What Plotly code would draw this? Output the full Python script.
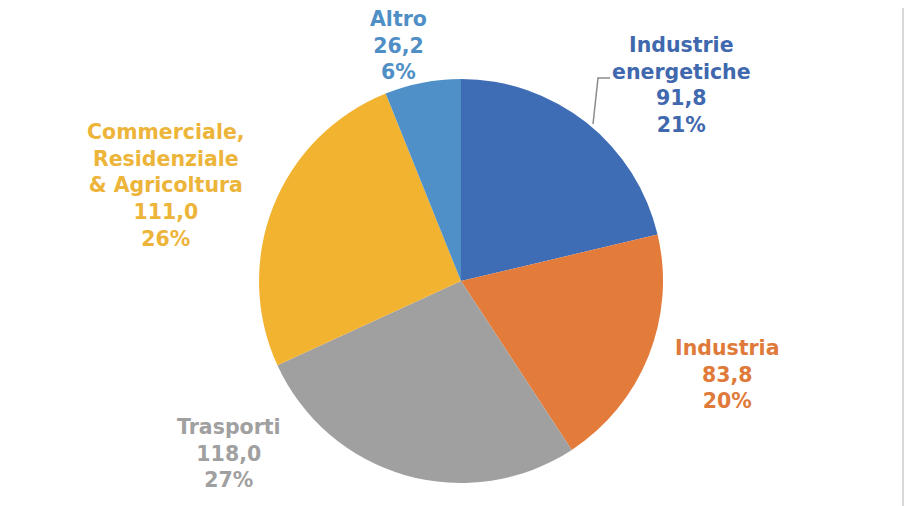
import plotly.graph_objects as go

# Emissioni per settore
labels = ["Industrie<br>energetiche", "Industria", "Trasporti",
          "Commerciale,<br>Residenziale<br>& Agricoltura", "Altro"]
values = [91.8, 83.8, 118.0, 111.0, 26.2]
shares = [21, 20, 27, 26, 6]

slice_colors = ["#3F6DB5", "#E37B3A", "#A0A0A0", "#F1B330", "#5090C8"]
text_colors = ["#3F68AE", "#E07A3A", "#A0A0A0", "#EDB43A", "#4F8FC6"]

# label anchor positions (paper coordinates)
label_pos = [(0.750, 0.832), (0.800, 0.260), (0.252, 0.103), (0.183, 0.634), (0.438, 0.910)]

W, H = 909, 506
cx, cy, r = 461, 281, 202

fig = go.Figure(go.Pie(
    labels=[l.replace("<br>", " ") for l in labels],
    values=values,
    sort=False,
    direction="clockwise",
    rotation=0,
    marker=dict(colors=slice_colors, line=dict(width=0)),
    textinfo="none",
    hoverinfo="label+value+percent",
    showlegend=False,
    domain=dict(x=[(cx - r) / W, (cx + r) / W],
                y=[1 - (cy + r) / H, 1 - (cy - r) / H]),
))

annotations = []
for lab, val, pct, col, (ax, ay) in zip(labels, values, shares, text_colors, label_pos):
    txt = f"{lab}<br>{val:.1f}".replace(".", ",") + f"<br>{pct}%"
    annotations.append(dict(
        x=ax, y=ay, xref="paper", yref="paper", text=txt, showarrow=False,
        xanchor="center", yanchor="middle", align="center",
        font=dict(family="DejaVu Sans, Arial, sans-serif", size=20.5,
                  color=col, weight="bold"),
    ))

shapes = [
    # leader line for the "Industrie energetiche" label
    dict(type="path", xref="paper", yref="paper",
         path=f"M {610/W} {1-78/H} L {598/W} {1-78/H} L {593/W} {1-124/H}",
         line=dict(color="#8C8C8C", width=1.5)),
    # right frame edge
    dict(type="line", xref="paper", yref="paper",
         x0=903 / W, x1=903 / W, y0=0, y1=1 - 8 / H,
         line=dict(color="#D8D8D8", width=2)),
]

fig.update_layout(
    width=W, height=H,
    margin=dict(l=0, r=0, t=0, b=0),
    paper_bgcolor="white", plot_bgcolor="white",
    annotations=annotations,
    shapes=shapes,
)

fig.write_html("out.html")
